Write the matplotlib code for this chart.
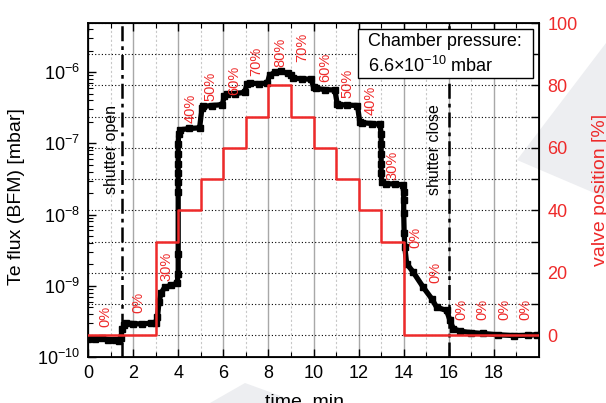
import numpy as np
import matplotlib
matplotlib.use('Agg')
import matplotlib.pyplot as plt
import matplotlib.ticker as ticker
from matplotlib.patches import Polygon, Rectangle

plt.rcParams['font.family'] = ['Liberation Sans', 'DejaVu Sans']
plt.rcParams['mathtext.fontset'] = 'custom'
plt.rcParams['mathtext.rm'] = 'Liberation Sans'
plt.rcParams['mathtext.it'] = 'Liberation Sans:italic'
plt.rcParams['mathtext.bf'] = 'Liberation Sans:bold'

# BFM reading (Te flux)
time_min = [0.00, 0.30, 0.60, 0.90, 1.20, 1.38, 1.45, 1.52, 1.60, 1.70,
            2.00, 2.40, 2.80, 3.00, 3.08, 3.15, 3.25, 3.40, 3.70, 3.95,
            4.00, 4.00, 4.00, 4.00, 4.00, 4.00, 4.00, 4.00, 4.02, 4.10,
            4.50, 4.95, 5.05, 5.10, 5.50, 5.95, 6.05, 6.15, 6.50, 6.95,
            7.05, 7.20, 7.60, 7.95, 8.05, 8.30, 8.55, 8.85, 9.00, 9.10,
            9.50, 9.90, 10.00, 10.10, 10.50, 10.95, 11.05, 11.15, 11.50, 11.95,
            12.05, 12.15, 12.60, 12.95, 13.00, 13.00, 13.00, 13.00, 13.00, 13.03,
            13.20, 13.60, 13.95, 14.00, 14.00, 14.00, 14.02, 14.05, 14.13, 14.42,
            14.87, 15.24, 15.46, 15.90, 16.05, 16.20, 16.50, 17.00, 17.50, 18.20,
            18.90, 19.50, 19.90]
flux_mbar = [1.80e-10, 1.78e-10, 1.82e-10, 1.76e-10, 1.72e-10, 1.70e-10, 1.85e-10, 2.45e-10, 2.80e-10, 3.00e-10,
             2.95e-10, 2.90e-10, 3.00e-10, 3.05e-10, 3.60e-10, 6.00e-10, 8.00e-10, 9.50e-10, 1.02e-09, 1.08e-09,
             1.48e-09, 2.80e-09, 2.10e-08, 2.90e-08, 3.80e-08, 5.20e-08, 7.20e-08, 9.90e-08, 1.35e-07, 1.55e-07,
             1.62e-07, 1.65e-07, 3.10e-07, 3.30e-07, 3.40e-07, 3.50e-07, 4.60e-07, 5.00e-07, 5.00e-07, 5.20e-07,
             6.80e-07, 7.00e-07, 6.90e-07, 7.00e-07, 9.00e-07, 1.00e-06, 1.03e-06, 9.60e-07, 9.00e-07, 8.20e-07,
             8.10e-07, 7.90e-07, 6.20e-07, 5.90e-07, 5.70e-07, 5.60e-07, 3.60e-07, 3.50e-07, 3.45e-07, 3.40e-07,
             2.00e-07, 1.95e-07, 1.90e-07, 1.85e-07, 1.34e-07, 9.80e-08, 7.10e-08, 5.20e-08, 3.80e-08, 2.90e-08,
             2.70e-08, 2.70e-08, 2.60e-08, 2.10e-08, 1.60e-08, 1.05e-08, 5.50e-09, 3.50e-09, 2.05e-09, 1.56e-09,
             9.50e-10, 6.60e-10, 5.00e-10, 4.50e-10, 3.30e-10, 2.50e-10, 2.30e-10, 2.20e-10, 2.14e-10, 2.05e-10,
             2.00e-10, 2.02e-10, 2.06e-10]

# valve position steps
valve_t = [0, 3, 4, 5, 6, 7, 8, 9, 10, 11, 12, 13, 14, 20]
valve_pct = [0, 30, 40, 50, 60, 70, 80, 70, 60, 50, 40, 30, 0, 0]

# red labels above the steps: x, valve level of label bottom, text
lab_x = [0.75, 2.24, 3.5, 4.56, 5.44, 6.5, 7.45, 8.55, 9.5, 10.5,
         11.5, 12.55, 13.5, 14.5, 15.4, 16.55, 17.5, 18.45, 19.4]
lab_y = [2.5, 7, 17.5, 68, 75, 77, 83, 86, 87.5, 81,
         76, 70.5, 49.7, 28, 16.6, 4.8, 4.8, 4.8, 4.8]
lab_txt = ['0%', '0%', '30%', '40%', '50%', '60%', '70%', '80%', '70%', '60%',
           '50%', '40%', '30%', '0%', '0%', '0%', '0%', '0%', '0%']

shutter_t = [1.5, 16.0]
shutter_txt = ['shutter open', 'shutter close']
shutter_txt_x = [1.05, 15.38]

red = '#EE2A2A'

fig = plt.figure(figsize=(6.06, 4.03), dpi=100)

# faint watermark in the background
W, H = 606, 403
for pts in ([(517, 160), (606, 43), (606, 198)], [(210, 403), (245, 383), (300, 403)]):
    fig.patches.append(Polygon([(x / W, 1 - y / H) for x, y in pts], closed=True,
                               transform=fig.transFigure, facecolor='#EDEEF1',
                               edgecolor='none', zorder=-1))

ax = fig.add_axes([88 / W, 1 - 357 / H, (539 - 88) / W, (357 - 23) / H])
ax.patch.set_visible(False)
ax.set_yscale('log')
ax.set_xlim(0, 20)
ax.set_ylim(1e-10, 4.9e-6)

ax.plot(time_min, flux_mbar, '-', color='k', lw=3.8, marker='s', ms=4.2, zorder=3)

for x in shutter_t:
    ax.axvline(x, color='k', lw=1.8, ls=(0, (6, 2, 1.5, 2)), zorder=4)
for x, s in zip(shutter_txt_x, shutter_txt):
    ax.text(x, 0.62, s, rotation=90, ha='center', va='center', fontsize=11.5,
            transform=ax.get_xaxis_transform())

ax.set_xticks(np.arange(0, 19, 2))
ax.xaxis.set_minor_locator(ticker.FixedLocator(np.arange(1, 20, 2)))
ax.yaxis.set_major_locator(ticker.LogLocator(base=10, numticks=10))
ax.yaxis.set_minor_locator(ticker.LogLocator(base=10, subs=np.arange(2, 10), numticks=12))
ax.yaxis.set_minor_formatter(ticker.NullFormatter())
ax.tick_params(which='both', direction='in', top=True, labelsize=13, pad=6)
ax.tick_params(which='major', length=6, width=1)
ax.tick_params(which='minor', length=3.5, width=0.8)
ax.grid(which='major', axis='x', color='#a8a8a8', lw=1, ls='-')
ax.grid(which='minor', axis='x', color='#c8c8c8', lw=0.8, ls=(0, (2, 2)))
ax.set_axisbelow(True)

ax.set_ylabel('Te flux (BFM) [mbar]', fontsize=14)
ax.yaxis.set_label_coords(-0.14, 0.48)
ax.set_xlabel('time, min', fontsize=14)
ax.xaxis.set_label_coords(0.479, -0.108)
for sp in ax.spines.values():
    sp.set_linewidth(1.3)

ax2 = ax.twinx()
ax2.patch.set_visible(False)
ax2.set_ylim(-7, 100)
ax2.step(valve_t, valve_pct, where='post', color=red, lw=1.8, zorder=5)
for x, y, s in zip(lab_x, lab_y, lab_txt):
    ax2.text(x, y, s, rotation=90, ha='center', va='bottom', color=red, fontsize=10.5)
ax2.set_yticks(np.arange(0, 101, 20))
ax2.yaxis.set_minor_locator(ticker.FixedLocator(np.arange(10, 100, 20)))
ax2.tick_params(which='both', direction='in', labelsize=13, pad=6, labelcolor=red)
ax2.tick_params(which='major', length=6, width=1)
ax2.tick_params(which='minor', length=6, width=1)
ax2.grid(which='both', axis='y', color='k', lw=0.8, ls=(0, (1, 2)))
ax2.set_ylabel('valve position [%]', fontsize=14, color=red)
ax2.yaxis.set_label_coords(1.117, 0.5)

# chamber pressure box
ax2.add_patch(Rectangle((358 / W, 1 - 78 / H), (533 - 358) / W, (78 - 29) / H,
                        transform=fig.transFigure, facecolor='white', edgecolor='k',
                        lw=1, zorder=6))
fig.text(368 / W, 1 - 42 / H, 'Chamber pressure:', fontsize=13, va='center', zorder=7)
fig.text(368 / W, 1 - 66 / H, r'6.6×10$^{-10}$ mbar', fontsize=13, va='center', zorder=7)

plt.savefig('out.png', dpi=100)
